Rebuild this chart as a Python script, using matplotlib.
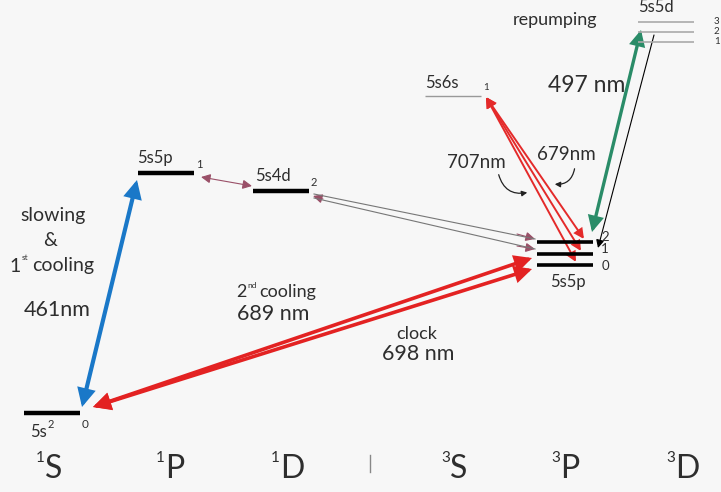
import matplotlib.pyplot as plt
from matplotlib.patches import FancyArrowPatch

# level data (energy axis runs downward in pixel units of the figure)
singlet_names = ["5s", "5s5p", "5s4d"]
singlet_J = ["0", "1", "2"]
singlet_x = [24, 138, 253]
singlet_y = [413, 173, 191]

s6s_x, s6s_y = 425, 96
p3_J = ["2", "1", "0"]
p3_x = 537
p3_y = [242, 254, 265]
d3_J = ["3", "2", "1"]
d3_x = 638
d3_y = [22, 32, 42]
level_w = 56

term_letters = ["S", "P", "D", "S", "P", "D"]
term_mult = ["1", "1", "1", "3", "3", "3"]
term_x = [40, 160, 275, 445, 555, 670]

plt.rcParams["font.family"] = ["Lato", "DejaVu Sans"]
TXT = "#2e2e2e"

fig = plt.figure(figsize=(7.21, 4.92), dpi=100)
fig.patch.set_facecolor("#f7f7f7")
ax = fig.add_axes([0, 0, 1, 1])
ax.set_xlim(0, 721)
ax.set_ylim(492, 0)
ax.axis("off")


def level(x, y, color="black", lw=3.2):
    ax.plot([x, x + level_w], [y, y], color=color, lw=lw, solid_capstyle="butt")


def arrow(p0, p1, color, lw=1.0, ms=14, style="<|-|>"):
    a = FancyArrowPatch(p0, p1, arrowstyle=style, mutation_scale=ms,
                        color=color, lw=lw, shrinkA=0, shrinkB=0,
                        joinstyle="miter")
    ax.add_patch(a)


# singlet levels
for i, (J, x, y) in enumerate(zip(singlet_J, singlet_x, singlet_y)):
    level(x, y)
    if i == 0:
        ax.text(x + level_w + 2, y + 11, J, fontsize=8.5, color=TXT, ha="left", va="center")
    else:
        ax.text(x + level_w + 2, y - 3, J, fontsize=8, color=TXT, ha="left", va="bottom")
ax.text(30, 432, singlet_names[0], fontsize=12, color=TXT, ha="left", va="center")
ax.text(48, 425, "2", fontsize=8, color=TXT, ha="left", va="center")
ax.text(137, 158, singlet_names[1], fontsize=12, color=TXT, ha="left", va="center")
ax.text(255, 176, singlet_names[2], fontsize=12, color=TXT, ha="left", va="center")

# 3S
level(s6s_x, s6s_y, color="#999999", lw=1.0)
ax.text(s6s_x, s6s_y - 13, "5s6s", fontsize=12, color=TXT, ha="left", va="center")
ax.text(s6s_x + level_w + 2, s6s_y - 8, "1", fontsize=7, color=TXT, ha="left", va="center")

# 3P
for J, y in zip(p3_J, p3_y):
    level(p3_x, y, lw=2.6)
    ax.text(p3_x + level_w + 12, y - 5 if J != "0" else y + 1, J, fontsize=9.5,
            color=TXT, ha="center", va="center")
ax.text(p3_x + 13, 282, "5s5p", fontsize=12, color=TXT, ha="left", va="center")

# 3D
for J, y in zip(d3_J, d3_y):
    level(d3_x, y, color="#aaaaaa", lw=1.2)
    ax.text(d3_x + level_w + 20, y, J, fontsize=7, color=TXT, ha="left", va="center")
ax.text(d3_x, 7, "5s5d", fontsize=12, color=TXT, ha="left", va="center")

# term labels along the bottom
for L, m, x in zip(term_letters, term_mult, term_x):
    ax.text(x + 5, 469, L, fontsize=23, color=TXT, ha="left", va="center")
    ax.text(x + 5, 458, m, fontsize=11, color=TXT, ha="right", va="center")
ax.plot([370, 370], [455, 472], color="#888888", lw=1.0)

# transitions
gs_end = singlet_x[0] + level_w
arrow((gs_end + 2, singlet_y[0] - 6), (singlet_x[1] - 1, singlet_y[1] + 7),
      "#1a78c8", lw=3.0, ms=22)
for y in p3_y[1:]:
    arrow((gs_end + 13, singlet_y[0] - 6), (p3_x - 5, y + 4), "#e32222", lw=2.6, ms=22)

mauve = "#9a5068"
arrow((singlet_x[1] + level_w + 7, singlet_y[1] + 4),
      (singlet_x[2] - 1, singlet_y[2] - 5), mauve, lw=0.8, ms=14)
ax.plot([singlet_x[2] + level_w + 5, p3_x - 2], [singlet_y[2] + 3, p3_y[0] - 3],
        color="#777777", lw=0.8)
ax.plot([singlet_x[2] + level_w + 5, p3_x - 2], [singlet_y[2] + 7, p3_y[1] - 5],
        color="#777777", lw=0.8)
arrow((singlet_x[2] + level_w + 4, singlet_y[2] + 5), (singlet_x[2] + level_w + 14, singlet_y[2] + 8),
      mauve, lw=0.8, ms=14, style="<|-")
for y in p3_y[:2]:
    arrow((p3_x - 20, y - 8), (p3_x - 2, y - 3 if y == p3_y[0] else y - 5),
          mauve, lw=0.8, ms=14, style="-|>")

for y, dx in zip(p3_y, [47, 44, 39]):
    arrow((s6s_x + 61, s6s_y + 1), (p3_x + dx, y - 3), "#e42a2a", lw=1.4, ms=14)

arrow((p3_x + 55, p3_y[0] - 10), (d3_x + 3, d3_y[0] + 8), "#2a8c68", lw=2.4, ms=20)
arrow((d3_x + 16, d3_y[1] + 3), (p3_x + 61, p3_y[0] + 6), "black", lw=0.8, ms=12, style="-|>")

# curly pointers for 707 / 679
ax.add_patch(FancyArrowPatch((498, 172), (530, 192), arrowstyle="-|>", mutation_scale=8,
                             connectionstyle="arc3,rad=0.5", color="#222222", lw=0.9))
ax.add_patch(FancyArrowPatch((575, 166), (552, 184), arrowstyle="-|>", mutation_scale=8,
                             connectionstyle="arc3,rad=-0.5", color="#222222", lw=0.9))

# annotations
ax.text(53, 216, "slowing", fontsize=14, color=TXT, ha="center", va="center")
ax.text(50, 240, "&", fontsize=14, color=TXT, ha="center", va="center")
ax.text(9, 266, "1", fontsize=14, color=TXT, ha="left", va="center")
ax.text(22, 257, "st", fontsize=6, color=TXT, ha="left", va="center")
ax.text(32, 266, "cooling", fontsize=14, color=TXT, ha="left", va="center")
ax.text(24, 310, "461nm", fontsize=15.5, color=TXT, ha="left", va="center")

ax.text(236, 292, "2", fontsize=13, color=TXT, ha="left", va="center")
ax.text(247, 285, "nd", fontsize=6, color=TXT, ha="left", va="center")
ax.text(259, 292, "cooling", fontsize=13, color=TXT, ha="left", va="center")
ax.text(237, 314, "689 nm", fontsize=15.5, color=TXT, ha="left", va="center")
ax.text(417, 334, "clock", fontsize=13, color=TXT, ha="center", va="center")
ax.text(418, 354, "698 nm", fontsize=15.5, color=TXT, ha="center", va="center")

ax.text(555, 20, "repumping", fontsize=13, color=TXT, ha="center", va="center")
ax.text(548, 86, "497 nm", fontsize=16.5, color=TXT, ha="left", va="center")
ax.text(447, 162, "707nm", fontsize=13.5, color=TXT, ha="left", va="center")
ax.text(537, 155, "679nm", fontsize=13.5, color=TXT, ha="left", va="center")

fig.savefig("out.png", dpi=100, facecolor=fig.get_facecolor())
